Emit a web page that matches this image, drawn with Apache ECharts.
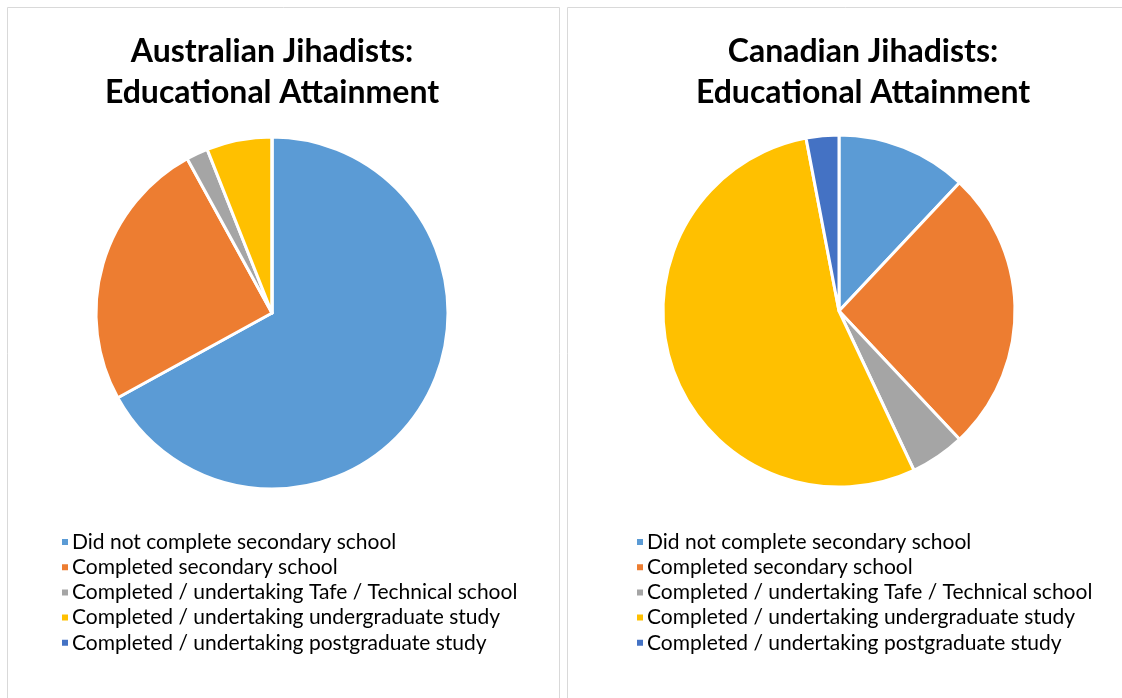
<!DOCTYPE html>
<html>
<head>
<meta charset="utf-8">
<style>
  html, body { margin: 0; padding: 0; background: #ffffff; }
  #chart { width: 1122px; height: 698px; }
</style>
<script src="https://cdn.jsdelivr.net/npm/echarts@6/dist/echarts.min.js"></script>
</head>
<body>
<div id="chart"></div>
<script>
// Education categories shared by both pies
const categories = [
  'Did not complete secondary school',
  'Completed secondary school',
  'Completed / undertaking Tafe / Technical school',
  'Completed / undertaking undergraduate study',
  'Completed / undertaking postgraduate study'
];
const sliceColors = ['#5B9BD5', '#ED7D31', '#A5A5A5', '#FFC000', '#4472C4'];

// Share of each group (percent)
const australianValues = [67, 25, 2, 6, 0];
const canadianValues = [12, 26, 5, 54, 3];

const titleAU = 'Australian Jihadists:\nEducational Attainment';
const titleCA = 'Canadian Jihadists:\nEducational Attainment';

const FONT = 'Lato, "Open Sans", sans-serif';

function toData(values) {
  return categories.map((name, i) => ({ name, value: values[i] }));
}

function pieSeries(values, center) {
  return {
    type: 'pie',
    center: center,
    radius: 176,
    startAngle: 90,
    clockwise: true,
    label: { show: false },
    labelLine: { show: false },
    silent: true,
    itemStyle: { borderColor: '#ffffff', borderWidth: 3 },
    emphasis: { disabled: true },
    data: toData(values)
  };
}

function legendAt(left) {
  return {
    orient: 'vertical',
    left: left,
    top: 526.5,
    itemWidth: 8,
    itemHeight: 8,
    itemGap: 4.2,
    icon: 'rect',
    selectedMode: false,
    textStyle: { fontFamily: FONT, fontSize: 21, color: '#000000', padding: [0, 0, 0, -2] },
    data: categories
  };
}

const titleStyle = { fontFamily: FONT, fontWeight: 'bold', fontSize: 32, lineHeight: 41, color: '#000000' };

const chart = echarts.init(document.getElementById('chart'), null, { renderer: 'canvas' });
chart.setOption({
  backgroundColor: '#ffffff',
  animation: false,
  color: sliceColors,
  graphic: [
    { type: 'rect', shape: { x: 7.5, y: 7.5, width: 552, height: 720 }, style: { fill: 'none', stroke: '#d9d9d9', lineWidth: 1 } },
    { type: 'rect', shape: { x: 567.5, y: 7.5, width: 600, height: 720 }, style: { fill: 'none', stroke: '#d9d9d9', lineWidth: 1 } }
  ],
  title: [
    { text: titleAU, left: 267, top: 26, textAlign: 'center', textStyle: titleStyle },
    { text: titleCA, left: 858, top: 26, textAlign: 'center', textStyle: titleStyle }
  ],
  legend: [legendAt(55), legendAt(630)],
  series: [
    pieSeries(australianValues, [272, 313]),
    pieSeries(canadianValues, [839, 311])
  ]
});
</script>
</body>
</html>
